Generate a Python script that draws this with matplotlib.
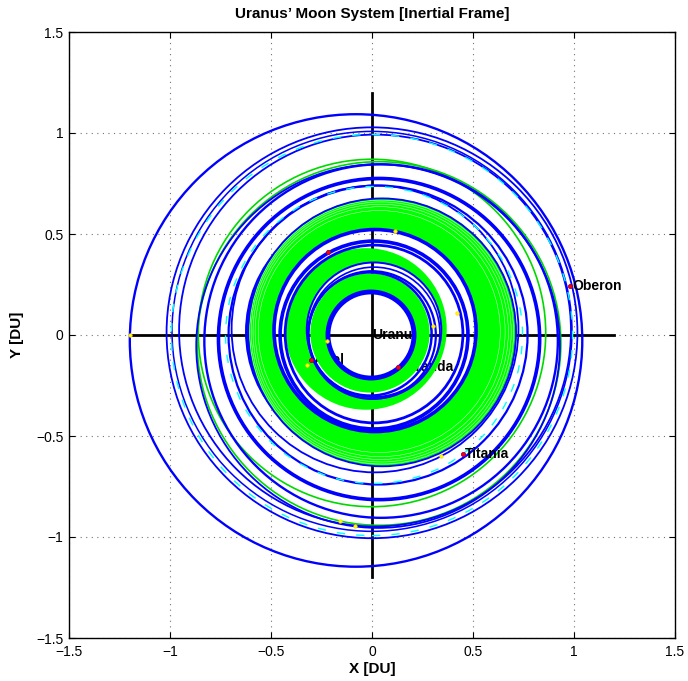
import numpy as np
import matplotlib
matplotlib.use("Agg")
from matplotlib import pyplot as plt
from matplotlib.patches import Circle, PathPatch
from matplotlib.path import Path

plt.rcParams['font.family'] = ['Liberation Sans', 'DejaVu Sans']

# ring orbits: centre x, centre y, radius, line width
blue_rings = [
    (-0.079, -0.027, 1.120, 1.7),
    (0.000, 0.011, 1.017, 1.3),
    (0.000, 0.018, 0.990, 1.1),
    (0.015, 0.022, 0.970, 1.3),
    (0.045, -0.030, 0.875, 1.7),
    (0.030, -0.055, 0.900, 1.3),
    (0.035, -0.020, 0.795, 2.6),
    (0.030, 0.000, 0.740, 1.6),
    (0.015, 0.030, 0.710, 1.3),
    (0.050, 0.013, 0.663, 1.3),
    (0.015, 0.022, 0.500, 2.6),
    (0.010, 0.000, 0.465, 2.6),
    (0.010, 0.005, 0.440, 2.0),
    (0.010, 0.026, 0.333, 1.4),
    (0.010, 0.010, 0.326, 1.2),
    (0.000, 0.000, 0.316, 1.6),
    (-0.010, 0.005, 0.305, 1.8),
    (-0.005, 0.000, 0.213, 3.5),
]
under_rings = [(-0.015, 0.015, 0.605, 2.5)]
cyan_rings = [(0.000, 0.000, 0.993), (0.010, 0.000, 0.735)]
green_rings = [(0.035, -0.042, 0.900), (0.000, 0.010, 0.860)]

# green bands: outer edge (cx, cy, r), inner edge (cx, cy, r)
green_bands = [
    ((0.050, 0.014, 0.665), (0.015, 0.022, 0.500)),
    ((-0.030, 0.030, 0.400), (0.010, 0.026, 0.333)),
    ((-0.010, 0.010, 0.295), (-0.005, 0.000, 0.215)),
]
# pale strands seen in the outer part of the big band
strand_steps = [0.6, 0.72, 0.8, 0.87, 0.93]

moon_names = ["Miranda", "Ariel", "Umbriel", "Titania", "Oberon"]
moon_x = [0.13, -0.30, -0.22, 0.45, 0.98]
moon_y = [-0.16, -0.125, 0.41, -0.59, 0.245]
label_on_top = [False, False, False, True, True]

yellow_x = [-1.2, -0.224, -0.32, 0.42, 0.30, 0.114, -0.16, -0.084, 0.34]
yellow_y = [0.0, -0.028, -0.15, 0.11, 0.046, 0.516, -0.92, -0.946, -0.60]

ticks = [-1.5, -1, -0.5, 0, 0.5, 1, 1.5]
tick_labels = ["\u22121.5", "\u22121", "\u22120.5", "0", "0.5", "1", "1.5"]


def annulus(outer, inner):
    po = Path.circle(outer[:2], outer[2])
    pi = Path.circle(inner[:2], inner[2])
    vi = pi.vertices.copy()
    vi[:-1] = vi[:-1][::-1]
    return Path(np.concatenate([po.vertices, vi]),
                np.concatenate([po.codes, pi.codes]))


fig = plt.figure(figsize=(6.88, 6.81), dpi=100)
ax = fig.add_axes([69 / 688, 43 / 681, 606 / 688, 606 / 681])

# crosshair
ax.plot([-1.2, 1.2], [0, 0], color="k", lw=2, zorder=2)
ax.plot([0, 0], [-1.2, 1.2], color="k", lw=2, zorder=2)

# labels: most sit under the orbit tracks
ax.text(0, 0, "Uranus", fontsize=10, fontweight="bold", va="center", zorder=2.5)
for name, x, y, top in zip(moon_names, moon_x, moon_y, label_on_top):
    if name == "Umbriel":
        continue  # fully hidden under the tracks in the original
    ax.text(x + 0.01, y, name, fontsize=10, fontweight="bold", va="center",
            zorder=8.5 if top else 2.5)

for cx, cy, r, lw in under_rings:
    ax.add_patch(Circle((cx, cy), r, fill=False, ec=(0, 0, 1), lw=lw, zorder=3))

for i, (outer, inner) in enumerate(green_bands):
    ax.add_patch(PathPatch(annulus(outer, inner), fc=(0, 1, 0), ec="none", zorder=4))
    if i == 0:
        for k in strand_steps:
            c = [inner[j] + k * (outer[j] - inner[j]) for j in range(3)]
            ax.add_patch(Circle(c[:2], c[2], fill=False, ec=(0.85, 1, 0.85),
                                lw=0.35, zorder=4))

for cx, cy, r in green_rings:
    ax.add_patch(Circle((cx, cy), r, fill=False, ec=(0, 0.85, 0), lw=1.2, zorder=5))

for cx, cy, r, lw in blue_rings:
    ax.add_patch(Circle((cx, cy), r, fill=False, ec=(0, 0, 1), lw=lw, zorder=6))

for cx, cy, r in cyan_rings:
    ax.add_patch(Circle((cx, cy), r, fill=False, ec=(0, 1, 1), lw=1.0,
                        ls=(0, (6, 8)), zorder=7))

ax.plot(yellow_x, yellow_y, "o", ms=2.5, mfc=(1, 1, 0), mec=(1, 0.85, 0), mew=0.5, zorder=8)
ax.plot(moon_x, moon_y, "o", ms=3, mfc=(1, 0, 0), mec=(0.6, 0, 0.3), mew=0.6, zorder=9)

ax.set_xlim(-1.5, 1.5)
ax.set_ylim(-1.5, 1.5)
ax.set_xticks(ticks)
ax.set_yticks(ticks)
ax.set_xticklabels(tick_labels)
ax.set_yticklabels(tick_labels)
ax.tick_params(direction="in", top=True, right=True, length=4, labelsize=10)
ax.tick_params(axis="x", pad=5)
ax.tick_params(axis="y", pad=4)
ax.grid(True, ls=(0, (1, 4)), color="0.45", lw=0.8)
for s in ax.spines.values():
    s.set_linewidth(1.0)

ax.set_title("Uranus\u2019 Moon System [Inertial Frame]", fontsize=11, fontweight="bold", pad=10)
ax.set_xlabel("X [DU]", fontsize=11, fontweight="bold", labelpad=2)
ax.set_ylabel("Y [DU]", fontsize=11, fontweight="bold", labelpad=9)

fig.savefig("out.png", dpi=100)
